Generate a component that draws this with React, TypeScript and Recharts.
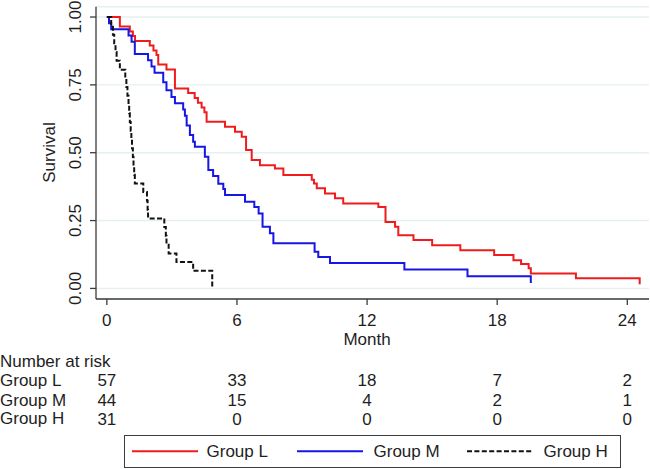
import React from 'react';
import { LineChart, Line, XAxis, YAxis, CartesianGrid, Legend, Label } from 'recharts';

// ---- Data ----
const monthTicks = [0, 6, 12, 18, 24];
const survivalTicks = [0, 0.25, 0.5, 0.75, 1];
const groupNames = ['Group L', 'Group M', 'Group H'];

const riskL = [57, 33, 18, 7, 2];
const riskM = [44, 15, 4, 2, 1];
const riskH = [31, 0, 0, 0, 0];

const timeL = [0, 0.6, 1.06, 1.2, 1.3, 1.98, 2.15, 2.29, 2.37, 2.75, 3.14, 3.75, 4.05, 4.2, 4.37, 4.5, 4.6, 5.45, 5.91, 6.22, 6.42, 6.68, 7.06, 7.75, 8.14, 9.45, 9.55, 9.68, 10.06, 10.52, 10.9, 12.52, 12.85, 13.29, 13.44, 14.14, 15.0, 16.3, 17.86, 18.75, 19.1, 19.45, 19.55, 21.63, 24.57];
const survL = [1.0, 0.965, 0.947, 0.93, 0.912, 0.895, 0.877, 0.86, 0.825, 0.807, 0.737, 0.72, 0.702, 0.684, 0.667, 0.649, 0.614, 0.596, 0.577, 0.559, 0.51, 0.473, 0.454, 0.442, 0.418, 0.4, 0.387, 0.369, 0.35, 0.332, 0.313, 0.3, 0.245, 0.227, 0.196, 0.178, 0.159, 0.141, 0.123, 0.104, 0.09, 0.074, 0.055, 0.037, 0.015];

const timeM = [0, 0.1, 0.2, 1.0, 1.14, 1.29, 1.9, 2.06, 2.2, 2.6, 2.75, 2.98, 3.14, 3.52, 3.6, 3.68, 3.83, 3.98, 4.06, 4.52, 4.68, 4.9, 5.14, 5.37, 5.45, 6.37, 6.8, 7.0, 7.18, 7.52, 7.68, 9.58, 9.75, 10.29, 13.72, 16.63, 19.55];
const survM = [1.0, 0.977, 0.955, 0.932, 0.909, 0.864, 0.841, 0.818, 0.795, 0.76, 0.73, 0.705, 0.682, 0.659, 0.636, 0.6, 0.565, 0.54, 0.522, 0.485, 0.436, 0.414, 0.386, 0.366, 0.344, 0.319, 0.3, 0.276, 0.227, 0.203, 0.166, 0.135, 0.116, 0.094, 0.07, 0.045, 0.02];

const timeH = [0, 0.2, 0.28, 0.34, 0.4, 0.45, 0.6, 0.85, 0.9, 0.95, 1.0, 1.03, 1.06, 1.1, 1.13, 1.16, 1.2, 1.23, 1.26, 1.29, 1.68, 1.85, 1.88, 1.9, 2.65, 2.72, 2.75, 2.85, 3.21, 3.98, 4.86];
const survH = [1.0, 0.968, 0.935, 0.903, 0.871, 0.839, 0.806, 0.774, 0.742, 0.71, 0.677, 0.645, 0.613, 0.581, 0.548, 0.516, 0.484, 0.452, 0.419, 0.387, 0.355, 0.323, 0.29, 0.258, 0.226, 0.194, 0.161, 0.129, 0.097, 0.065, 0.0];

const toSeries = (t: number[], s: number[]) => t.map((x, i) => ({ t: x, s: s[i] }));
const dataL = toSeries(timeL, survL);
const dataM = toSeries(timeM, survM);
const dataH = toSeries(timeH, survH);

// ---- Styles ----
const FONT = "'Liberation Sans', Arial, sans-serif";
const FS = 17;
const TXT = '#1e1e1e';
const AXIS = '#3c3c3c';
const RED = '#ee1c1c';
const BLUE = '#1616e6';
const BLACK = '#111111';
const DASH = '5 2.4';
const X_DOMAIN: [number, number] = [-0.5, 25];

const YTick = (props: any) => {
  const { x, y, payload } = props;
  return (
    <text x={x} y={y} transform={`rotate(-90 ${x} ${y})`} textAnchor="middle" fontSize={FS} fill={TXT} fontFamily={FONT}>
      {Number(payload.value).toFixed(2)}
    </text>
  );
};

const rowLabel = (text: string, dy: number, extra?: { text: string; dy: number }) => (props: any) => {
  const vb = props.viewBox || { y: 0 };
  return (
    <g>
      {extra ? (
        <text x={0} y={vb.y + extra.dy} fontSize={FS} fill={TXT} fontFamily={FONT}>{extra.text}</text>
      ) : null}
      <text x={0} y={vb.y + dy} fontSize={FS} fill={TXT} fontFamily={FONT}>{text}</text>
    </g>
  );
};

const legendItems = [
  { name: groupNames[0], color: RED, dash: undefined as string | undefined, lx: 6.5, tx: 81.5 },
  { name: groupNames[1], color: BLUE, dash: undefined as string | undefined, lx: 171.5, tx: 248.5 },
  { name: groupNames[2], color: BLACK, dash: DASH, lx: 341.5, tx: 418.5 },
];

const LegendBox = () => (
  <div style={{ position: 'relative', width: 497, height: 33, boxSizing: 'border-box', border: `1.5px solid ${AXIS}`, background: '#fff', fontFamily: FONT, fontSize: FS, color: TXT }}>
    {legendItems.map((it) => (
      <React.Fragment key={it.name}>
        <svg style={{ position: 'absolute', left: it.lx, top: 0 }} width={66} height={30}>
          <line x1={0} y1={15.2} x2={66} y2={15.2} stroke={it.color} strokeWidth={2} strokeDasharray={it.dash} />
        </svg>
        <span style={{ position: 'absolute', left: it.tx, top: 0, lineHeight: '31px', whiteSpace: 'nowrap' }}>{it.name}</span>
      </React.Fragment>
    ))}
  </div>
);

export default function App() {
  return (
    <div style={{ position: 'absolute', left: 0, top: 0, width: 650, height: 469, background: '#fff' }}>
      <LineChart width={650} height={469} margin={{ top: 6.7, right: 1, left: 0, bottom: 8 }} style={{ fontFamily: FONT }}>
        <CartesianGrid horizontal vertical={false} stroke="#e6eff1" strokeWidth={1.4} yAxisId="y" xAxisId="a_t" />
        <YAxis
          yAxisId="y"
          type="number"
          domain={[-0.039, 1.038]}
          ticks={survivalTicks}
          interval={0}
          width={96}
          tickSize={6}
          tickMargin={9}
          tick={<YTick />}
          stroke={AXIS}
          axisLine={{ stroke: AXIS, strokeWidth: 1.3 }}
          tickLine={{ stroke: AXIS, strokeWidth: 1.3 }}
          allowDataOverflow
        >
          <Label
            content={() => (
              <text x={55} y={152.5} transform="rotate(-90 55 152.5)" textAnchor="middle" fontSize={FS} fill={TXT} fontFamily={FONT}>
                Survival
              </text>
            )}
          />
        </YAxis>
        <XAxis
          xAxisId="a_t"
          type="number"
          dataKey="t"
          domain={X_DOMAIN}
          ticks={monthTicks}
          interval={0}
          height={48}
          tickSize={6}
          tickMargin={8.5}
          tick={{ fontSize: FS, fill: TXT, fontFamily: FONT }}
          axisLine={{ stroke: AXIS, strokeWidth: 1.3 }}
          tickLine={{ stroke: AXIS, strokeWidth: 1.3 }}
          allowDataOverflow
        >
          <Label
            content={() => (
              <text x={367} y={345} textAnchor="middle" fontSize={FS} fill={TXT} fontFamily={FONT}>Month</text>
            )}
          />
        </XAxis>
        <XAxis
          xAxisId="b_L"
          type="number"
          dataKey="t"
          domain={X_DOMAIN}
          ticks={monthTicks}
          interval={0}
          height={43}
          tickSize={0}
          tickMargin={27.3}
          axisLine={false}
          tickLine={false}
          tick={{ fontSize: FS, fill: TXT, fontFamily: FONT }}
          tickFormatter={(v: number) => String(riskL[monthTicks.indexOf(v)])}
          allowDataOverflow
        >
          <Label content={rowLabel(groupNames[0], 38.7, { text: 'Number at risk', dy: 19.7 })} />
        </XAxis>
        <XAxis
          xAxisId="c_M"
          type="number"
          dataKey="t"
          domain={X_DOMAIN}
          ticks={monthTicks}
          interval={0}
          height={19.5}
          tickSize={0}
          tickMargin={4.3}
          axisLine={false}
          tickLine={false}
          tick={{ fontSize: FS, fill: TXT, fontFamily: FONT }}
          tickFormatter={(v: number) => String(riskM[monthTicks.indexOf(v)])}
          allowDataOverflow
        >
          <Label content={rowLabel(groupNames[1], 15.7)} />
        </XAxis>
        <XAxis
          xAxisId="d_H"
          type="number"
          dataKey="t"
          domain={X_DOMAIN}
          ticks={monthTicks}
          interval={0}
          height={18.5}
          tickSize={0}
          tickMargin={3.3}
          axisLine={false}
          tickLine={false}
          tick={{ fontSize: FS, fill: TXT, fontFamily: FONT }}
          tickFormatter={(v: number) => String(riskH[monthTicks.indexOf(v)])}
          allowDataOverflow
        >
          <Label content={rowLabel(groupNames[2], 14.7)} />
        </XAxis>
        <Line xAxisId="a_t" yAxisId="y" data={dataL} dataKey="s" type="stepAfter" stroke={RED} strokeWidth={2} dot={false} activeDot={false} isAnimationActive={false} name={groupNames[0]} />
        <Line xAxisId="a_t" yAxisId="y" data={dataM} dataKey="s" type="stepAfter" stroke={BLUE} strokeWidth={2} dot={false} activeDot={false} isAnimationActive={false} name={groupNames[1]} />
        <Line xAxisId="a_t" yAxisId="y" data={dataH} dataKey="s" type="stepAfter" stroke={BLACK} strokeWidth={2} strokeDasharray={DASH} dot={false} activeDot={false} isAnimationActive={false} name={groupNames[2]} />
        <Legend
          verticalAlign="bottom"
          align="left"
          wrapperStyle={{ left: 124, bottom: 1, width: 497, height: 33 }}
          content={() => <LegendBox />}
        />
      </LineChart>
    </div>
  );
}
